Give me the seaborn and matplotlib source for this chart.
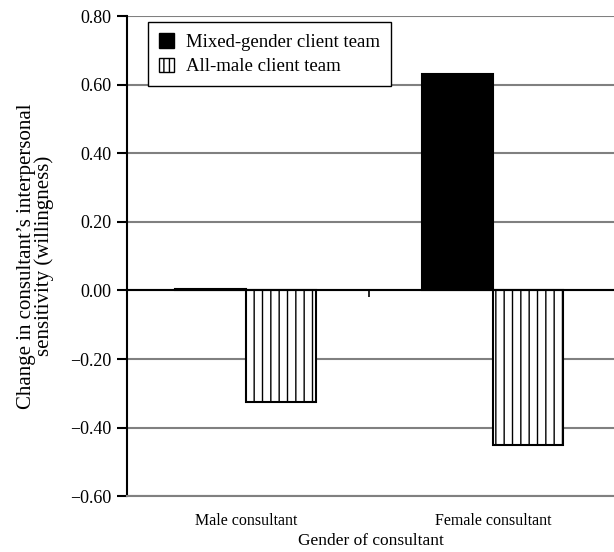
import matplotlib
matplotlib.use("Agg")
import matplotlib.pyplot as plt
import pandas as pd
import seaborn as sns
from matplotlib.patches import Patch

sns.set_theme(style="white")
plt.rcParams["font.family"] = ["Liberation Serif", "DejaVu Serif"]
plt.rcParams["hatch.linewidth"] = 1.0
plt.rcParams["text.color"] = "black"
plt.rcParams["axes.labelcolor"] = "black"
plt.rcParams["xtick.color"] = "black"
plt.rcParams["ytick.color"] = "black"

consultants = ["Male consultant", "Female consultant"]
teams = ["Mixed-gender client team", "All-male client team"]
mixed_vals = [0.005, 0.63]
male_vals = [-0.325, -0.452]
y_ticks = [-0.6, -0.4, -0.2, 0.0, 0.2, 0.4, 0.6, 0.8]

df = pd.DataFrame({
    "consultant": consultants * 2,
    "team": [teams[0]] * 2 + [teams[1]] * 2,
    "value": mixed_vals + male_vals,
})

fig = plt.figure(figsize=(6.14, 5.52), dpi=100)
ax = fig.add_axes([0.207, 0.101, 0.793, 0.870])

ax.set_ylim(-0.6, 0.8)
ax.set_yticks(y_ticks)
ax.yaxis.grid(True, color="#808080", linewidth=1.5)
ax.set_axisbelow(True)

sns.barplot(data=df, x="consultant", y="value", hue="team", order=consultants,
            hue_order=teams, width=0.57, ax=ax, legend=False, errorbar=None,
            linewidth=1.5, edgecolor="black")

fills = ["black", "white"]
hatches = [None, "||"]
for cont, fc, h in zip(ax.containers, fills, hatches):
    for bar in cont:
        bar.set_facecolor(fc)
        bar.set_edgecolor("black")
        if h:
            bar.set_hatch(h)

ax.axhline(0, color="black", linewidth=1.5, zorder=1.5)
ax.vlines(0.5, -0.018, 0, color="black", linewidth=1.2)
ax.set_xlim(-0.48, 1.49)

for s in ["top", "right"]:
    ax.spines[s].set_visible(False)
ax.spines["left"].set_color("black")
ax.spines["left"].set_linewidth(1.5)
ax.spines["bottom"].set_color("#808080")
ax.spines["bottom"].set_linewidth(1.5)

ax.tick_params(axis="y", left=True, length=7, width=1.5, color="black",
               labelsize=13, pad=4)
ax.tick_params(axis="x", bottom=False, labelsize=11.5, pad=6)
ax.set_yticklabels([f"{v:.2f}".replace("-", "\u2212") for v in y_ticks])

ax.set_xlabel("Gender of consultant", fontsize=12.5, labelpad=3)
ax.set_ylabel("Change in consultant\u2019s interpersonal\nsensitivity (willingness)",
              fontsize=15, labelpad=12, linespacing=0.85)

handles = [Patch(facecolor=fills[i], edgecolor="black",
                 hatch="|||" if hatches[i] else None, label=teams[i])
           for i in range(2)]
leg = ax.legend(handles=handles, loc="upper left", bbox_to_anchor=(0.043, 0.9875),
                borderaxespad=0, frameon=True, fancybox=False, edgecolor="black",
                fontsize=13.5, handlelength=0.8, handleheight=0.8, handletextpad=0.6,
                borderpad=0.6, labelspacing=0.35, framealpha=1)
leg.get_frame().set_linewidth(1.0)

fig.savefig("out.png", dpi=100)
